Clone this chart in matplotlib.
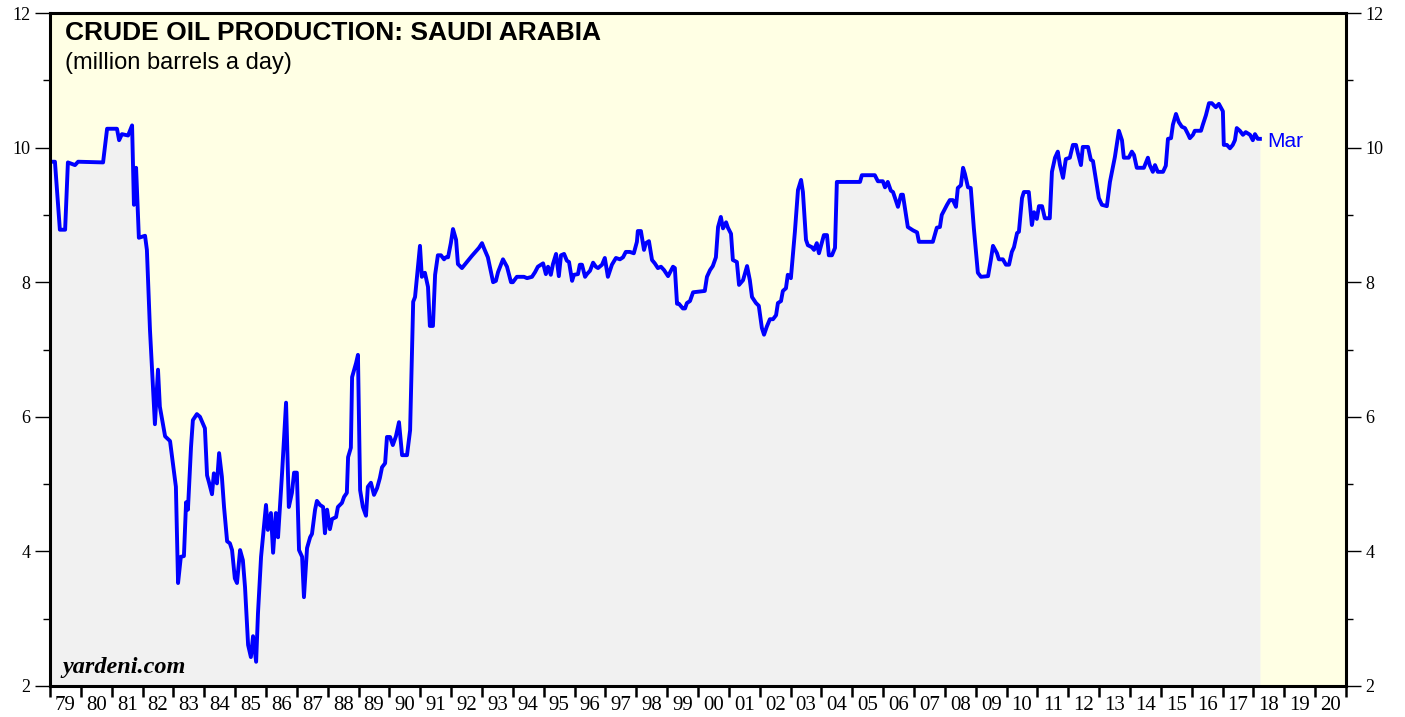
import matplotlib.pyplot as plt

# Saudi Arabia crude oil production, million barrels a day
dates = [
    1979.04, 1979.16, 1979.32, 1979.49, 1979.58, 1979.81, 1979.91, 1980.72, 1980.85, 1981.17,
    1981.24, 1981.33, 1981.53, 1981.66, 1981.72, 1981.79, 1981.88, 1982.08, 1982.14, 1982.24,
    1982.40, 1982.50, 1982.56, 1982.73, 1982.89, 1983.08, 1983.15, 1983.24, 1983.34, 1983.41,
    1983.47, 1983.57, 1983.63, 1983.76, 1983.86, 1984.02, 1984.09, 1984.15, 1984.25, 1984.31,
    1984.41, 1984.48, 1984.57, 1984.64, 1984.74, 1984.83, 1984.90, 1984.99, 1985.06, 1985.16,
    1985.25, 1985.32, 1985.42, 1985.51, 1985.58, 1985.68, 1985.74, 1985.84, 1985.90, 1986.00,
    1986.06, 1986.16, 1986.23, 1986.32, 1986.39, 1986.52, 1986.65, 1986.74, 1986.84, 1986.91,
    1987.00, 1987.07, 1987.17, 1987.23, 1987.33, 1987.43, 1987.49, 1987.59, 1987.65, 1987.75,
    1987.85, 1987.91, 1987.98, 1988.07, 1988.14, 1988.27, 1988.33, 1988.46, 1988.53, 1988.62,
    1988.66, 1988.75, 1988.79, 1988.92, 1988.98, 1989.05, 1989.14, 1989.24, 1989.30, 1989.40,
    1989.50, 1989.60, 1989.69, 1989.76, 1989.86, 1989.92, 1990.02, 1990.11, 1990.21, 1990.31,
    1990.41, 1990.57, 1990.67, 1990.77, 1990.83, 1990.99, 1991.05, 1991.15, 1991.25, 1991.31,
    1991.41, 1991.48, 1991.57, 1991.67, 1991.77, 1991.83, 1991.90, 1991.99, 1992.06, 1992.16,
    1992.22, 1992.35, 1992.51, 1992.67, 1992.84, 1992.90, 1993.00, 1993.06, 1993.19, 1993.29,
    1993.36, 1993.45, 1993.52, 1993.68, 1993.81, 1993.94, 1994.00, 1994.13, 1994.29, 1994.36,
    1994.46, 1994.62, 1994.72, 1994.81, 1994.98, 1995.07, 1995.14, 1995.23, 1995.30, 1995.40,
    1995.49, 1995.56, 1995.66, 1995.75, 1995.82, 1995.92, 1995.98, 1996.11, 1996.17, 1996.24,
    1996.34, 1996.40, 1996.50, 1996.60, 1996.69, 1996.76, 1996.89, 1996.98, 1997.08, 1997.21,
    1997.34, 1997.47, 1997.57, 1997.66, 1997.79, 1997.92, 1998.02, 1998.05, 1998.15, 1998.25,
    1998.31, 1998.41, 1998.51, 1998.60, 1998.70, 1998.80, 1998.90, 1999.03, 1999.19, 1999.25,
    1999.32, 1999.38, 1999.51, 1999.58, 1999.64, 1999.74, 1999.84, 2000.22, 2000.29, 2000.39,
    2000.48, 2000.58, 2000.65, 2000.74, 2000.81, 2000.91, 2000.97, 2001.07, 2001.13, 2001.26,
    2001.33, 2001.46, 2001.59, 2001.68, 2001.75, 2001.88, 2001.97, 2002.07, 2002.14, 2002.23,
    2002.33, 2002.43, 2002.53, 2002.59, 2002.69, 2002.75, 2002.85, 2002.91, 2003.01, 2003.14,
    2003.24, 2003.34, 2003.40, 2003.50, 2003.56, 2003.69, 2003.76, 2003.85, 2003.92, 2004.02,
    2004.08, 2004.18, 2004.24, 2004.34, 2004.44, 2004.50, 2005.25, 2005.31, 2005.73, 2005.83,
    2005.99, 2006.06, 2006.15, 2006.25, 2006.32, 2006.48, 2006.58, 2006.64, 2006.80, 2006.97,
    2007.10, 2007.16, 2007.61, 2007.74, 2007.84, 2007.90, 2008.07, 2008.16, 2008.26, 2008.36,
    2008.42, 2008.52, 2008.59, 2008.65, 2008.75, 2008.84, 2008.94, 2009.07, 2009.17, 2009.40,
    2009.49, 2009.56, 2009.69, 2009.75, 2009.88, 2009.98, 2010.08, 2010.17, 2010.24, 2010.34,
    2010.40, 2010.50, 2010.56, 2010.72, 2010.82, 2010.89, 2010.98, 2011.05, 2011.15, 2011.24,
    2011.40, 2011.47, 2011.57, 2011.66, 2011.73, 2011.83, 2011.92, 2012.05, 2012.15, 2012.25,
    2012.31, 2012.41, 2012.47, 2012.64, 2012.73, 2012.80, 2012.99, 2013.09, 2013.25, 2013.35,
    2013.51, 2013.64, 2013.74, 2013.80, 2013.96, 2014.06, 2014.13, 2014.22, 2014.45, 2014.58,
    2014.64, 2014.74, 2014.81, 2014.90, 2015.07, 2015.16, 2015.23, 2015.33, 2015.39, 2015.49,
    2015.58, 2015.68, 2015.78, 2015.88, 2015.94, 2016.04, 2016.10, 2016.30, 2016.36, 2016.46,
    2016.56, 2016.65, 2016.78, 2016.88, 2017.01, 2017.04, 2017.14, 2017.24, 2017.33, 2017.40,
    2017.46, 2017.56, 2017.66, 2017.75, 2017.82, 2017.89, 2017.98, 2018.05, 2018.14, 2018.21,
]
mbd = [
    9.79, 9.79, 8.78, 8.78, 9.78, 9.74, 9.79, 9.78, 10.28, 10.28,
    10.11, 10.20, 10.18, 10.33, 9.15, 9.70, 8.66, 8.69, 8.48, 7.29,
    5.89, 6.70, 6.15, 5.71, 5.64, 4.96, 3.53, 3.92, 3.93, 4.73,
    4.62, 5.55, 5.95, 6.04, 6.00, 5.83, 5.13, 5.03, 4.85, 5.16,
    5.01, 5.46, 5.11, 4.66, 4.15, 4.12, 4.02, 3.60, 3.53, 4.02,
    3.87, 3.47, 2.61, 2.43, 2.74, 2.36, 3.08, 3.92, 4.21, 4.69,
    4.32, 4.57, 3.98, 4.57, 4.21, 5.16, 6.21, 4.66, 4.87, 5.17,
    5.17, 4.02, 3.92, 3.32, 4.05, 4.21, 4.26, 4.62, 4.75, 4.69,
    4.66, 4.27, 4.62, 4.33, 4.48, 4.51, 4.66, 4.72, 4.81, 4.87,
    5.40, 5.54, 6.59, 6.80, 6.92, 4.91, 4.66, 4.53, 4.96, 5.02,
    4.84, 4.94, 5.09, 5.25, 5.31, 5.70, 5.70, 5.58, 5.71, 5.92,
    5.43, 5.43, 5.80, 7.71, 7.78, 8.54, 8.08, 8.14, 7.93, 7.35,
    7.35, 8.11, 8.40, 8.40, 8.34, 8.37, 8.37, 8.58, 8.79, 8.63,
    8.27, 8.21, 8.30, 8.39, 8.48, 8.51, 8.58, 8.51, 8.37, 8.15,
    8.00, 8.02, 8.15, 8.34, 8.23, 8.00, 8.00, 8.08, 8.08, 8.08,
    8.06, 8.08, 8.15, 8.23, 8.28, 8.12, 8.23, 8.11, 8.27, 8.42,
    8.09, 8.40, 8.42, 8.32, 8.30, 8.02, 8.11, 8.12, 8.26, 8.26,
    8.08, 8.12, 8.17, 8.29, 8.23, 8.21, 8.26, 8.36, 8.08, 8.26,
    8.36, 8.34, 8.37, 8.45, 8.45, 8.43, 8.60, 8.76, 8.76, 8.48,
    8.58, 8.61, 8.33, 8.28, 8.21, 8.23, 8.18, 8.09, 8.23, 8.21,
    7.68, 7.68, 7.61, 7.61, 7.69, 7.72, 7.85, 7.87, 8.08, 8.18,
    8.24, 8.37, 8.82, 8.97, 8.80, 8.89, 8.81, 8.72, 8.33, 8.30,
    7.96, 8.03, 8.24, 8.03, 7.78, 7.69, 7.65, 7.32, 7.22, 7.34,
    7.45, 7.45, 7.51, 7.69, 7.72, 7.87, 7.91, 8.11, 8.06, 8.75,
    9.37, 9.52, 9.34, 8.63, 8.55, 8.52, 8.48, 8.58, 8.43, 8.60,
    8.70, 8.70, 8.40, 8.40, 8.51, 9.49, 9.49, 9.59, 9.59, 9.50,
    9.50, 9.41, 9.49, 9.36, 9.34, 9.12, 9.30, 9.30, 8.82, 8.77,
    8.74, 8.60, 8.60, 8.81, 8.82, 9.00, 9.15, 9.22, 9.22, 9.12,
    9.40, 9.44, 9.70, 9.61, 9.41, 9.40, 8.80, 8.14, 8.08, 8.09,
    8.33, 8.54, 8.43, 8.34, 8.34, 8.26, 8.26, 8.45, 8.52, 8.73,
    8.75, 9.25, 9.34, 9.34, 8.85, 9.04, 8.94, 9.13, 9.13, 8.95,
    8.95, 9.64, 9.85, 9.94, 9.74, 9.55, 9.83, 9.85, 10.04, 10.04,
    9.92, 9.74, 10.01, 10.01, 9.82, 9.80, 9.25, 9.15, 9.13, 9.49,
    9.86, 10.25, 10.11, 9.85, 9.85, 9.94, 9.89, 9.70, 9.70, 9.85,
    9.74, 9.64, 9.74, 9.64, 9.64, 9.73, 10.13, 10.14, 10.34, 10.50,
    10.38, 10.31, 10.29, 10.20, 10.14, 10.19, 10.25, 10.25, 10.34, 10.48,
    10.66, 10.66, 10.60, 10.65, 10.54, 10.04, 10.04, 9.99, 10.04, 10.11,
    10.29, 10.25, 10.19, 10.23, 10.21, 10.19, 10.11, 10.20, 10.13, 10.13,
]

years = list(range(1979, 2021))
year_labels = [f'{y % 100:02d}' for y in years]
last_label = 'Mar'

plt.rcParams['font.family'] = ['Liberation Serif', 'DejaVu Serif']

fig = plt.figure(figsize=(14.05, 7.17), dpi=100)
ax = fig.add_axes([50 / 1405, 31 / 717, 1296 / 1405, 673 / 717])
ax.set_facecolor('#ffffe4')

ax.fill_between(dates, 2, mbd, color='#f1f1f1', lw=0)
ax.plot(dates, mbd, color='#0000ff', lw=2.8, solid_joinstyle='round')

ax.set_xlim(1979, 2021)
ax.set_ylim(2, 12)

# year boundaries get the tick marks, labels sit mid-year
ax.set_xticks(years + [2021])
ax.set_xticklabels([])
ax.set_xticks([y + 0.5 for y in years], minor=True)
ax.set_xticklabels(year_labels, minor=True)
ax.tick_params(axis='x', which='major', direction='out', length=8, width=1.8, color='black')
ax.tick_params(axis='x', which='minor', length=0, pad=7, labelsize=15)

ax.set_yticks(range(2, 13, 2))
ax.set_yticks(range(3, 12, 2), minor=True)
ax.tick_params(axis='y', which='both', left=True, right=True, labelleft=True, labelright=True)
ax.tick_params(axis='y', which='major', length=11, width=1, labelsize=13, pad=3)
ax.tick_params(axis='y', which='minor', length=5, width=1)

for side in ['left', 'right', 'top', 'bottom']:
    ax.spines[side].set_linewidth(2.2)

fig.text(65 / 1405, 1 - 33 / 717, 'CRUDE OIL PRODUCTION: SAUDI ARABIA', family='Liberation Sans',
         fontsize=19, fontweight='bold', va='center', ha='left')
fig.text(65 / 1405, 1 - 63 / 717, '(million barrels a day)', family='Liberation Sans',
         fontsize=17, va='center', ha='left')
fig.text(62 / 1405, 1 - 668 / 717, 'yardeni.com', family='Liberation Serif',
         fontsize=17.5, fontweight='bold', fontstyle='italic', va='center', ha='left')

ax.annotate(last_label, xy=(dates[-1], mbd[-1]), xytext=(5, -2), textcoords='offset points',
            color='#0000ff', family='Liberation Sans', fontsize=15, va='center', ha='left')

fig.savefig('out.png', dpi=100)
